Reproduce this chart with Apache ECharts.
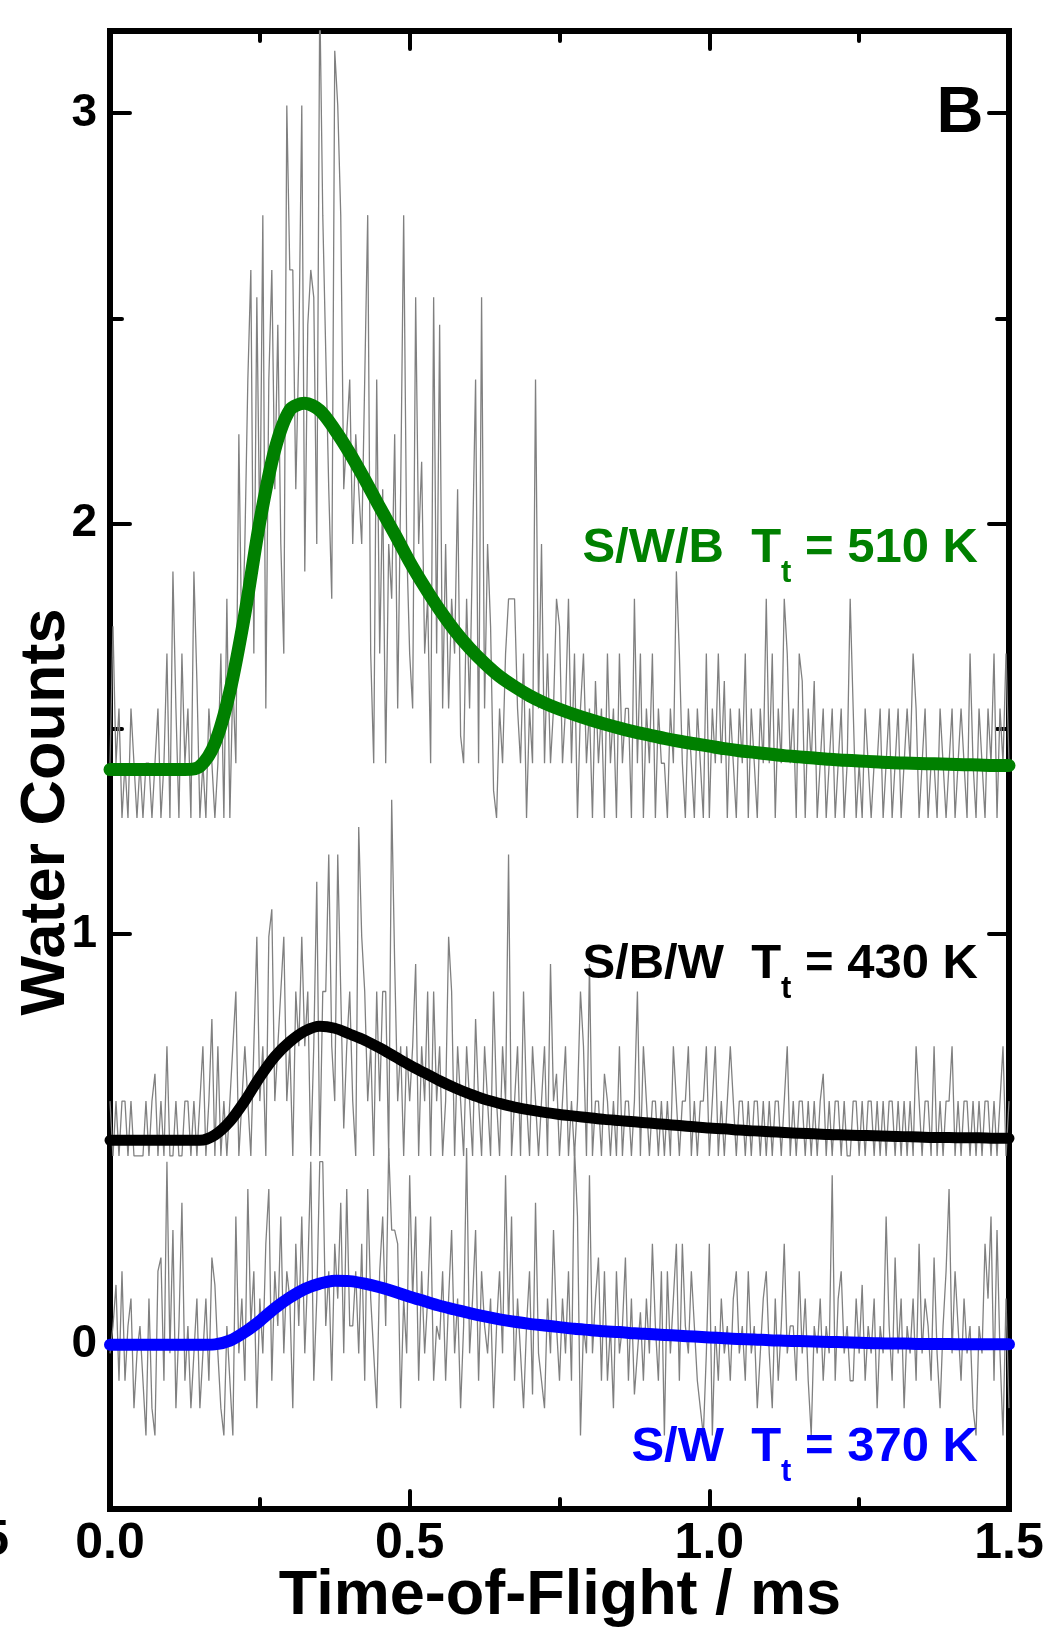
<!DOCTYPE html>
<html>
<head>
<meta charset="utf-8">
<style>
  html, body { margin: 0; padding: 0; background: #fff; }
  #chart { width: 1048px; height: 1632px; }
</style>
<script src="https://cdn.jsdelivr.net/npm/echarts@6/dist/echarts.min.js"></script>
</head>
<body>
<div id="chart"></div>
<script>
// raw TOF traces, sampled every dt ms, stored as detector count levels
var dt = 0.005;
var countStep = 0.1335;    // one count, in plot units
var halfStep = 0.0667;

// S/W/B, 510 K (green), levels above 1.283
var greenBase = 1.283;
var greenCounts = [
  1, 3.5, 1, 2, 0, 1, 0, 2, 1, 0,
  1, 0, 1, 1, 0, 1, 2, 0, 1, 3,
  0, 4.5, 2, 0, 3, 1, 2, 0, 4.5, 2.5,
  0, 1, 0, 2, 1, 0, 1, 3, 0, 4,
  0, 2.5, 1, 7, 3, 5, 8, 10, 3, 9.5,
  5, 11, 2, 8, 10, 6, 9, 5, 3, 13,
  10, 10, 6, 8.5, 13, 4.5, 9, 10, 9.5, 5,
  15, 11, 8.5, 6, 4, 14, 13, 11, 6, 7,
  8, 5, 7, 6, 5, 8, 11, 3, 1, 8,
  3, 6, 1, 5, 4, 7, 2, 6, 11, 5,
  3, 2, 9.5, 5, 6.5, 3, 4, 1, 9.5, 3,
  9, 2, 5, 2, 4, 3, 6, 1.5, 1, 4,
  2, 5, 8, 1, 9.5, 2, 5, 3.5, 0.5, 0,
  2, 1, 3, 4, 4, 4, 2, 1, 3, 0,
  2, 1, 8, 2, 5, 1, 3, 1, 2, 4,
  3.5, 1, 2, 4, 1, 3, 0, 2, 3, 1,
  2, 0, 2.5, 1, 2, 0, 3, 1, 2, 0,
  3, 1, 2, 2, 0, 4, 1, 3, 0, 2,
  1, 3, 0, 2, 1, 1, 0, 2, 1, 4.5,
  3, 1, 0, 2, 1, 0, 2, 1, 0, 3,
  0, 2, 1, 3, 1, 2.5, 0, 2, 1, 0,
  2, 1, 3, 0, 2, 1, 0, 2, 1, 4,
  1, 3, 0, 2, 1, 4, 3, 1, 2, 0,
  3, 2.5, 0, 2, 1, 2.5, 0, 1, 2, 0,
  1, 2, 0, 1, 2, 0, 1, 4, 2, 0,
  1, 0, 2, 1, 0, 1, 1, 2, 0, 1,
  2, 0, 1, 2, 0, 1, 2, 1, 3, 2,
  0, 1, 2, 0, 1, 1, 0, 2, 1, 0,
  1, 2, 0, 1, 2, 1, 0, 3, 1, 0,
  2, 1, 0, 2, 1, 3, 0, 2, 1, 3, 1
];

// S/B/W, 430 K (black), levels above 0.46
var blackBase = 0.46;
var blackCounts = [
  1, 0, 1, 0, 1, 1, 0, 1, 0, 0,
  0, 0, 1, 0, 1, 1.5, 0, 1, 0, 2,
  0, 0, 1, 0, 0, 1, 1, 0, 1, 0,
  1, 2, 0, 1, 2.5, 0, 2, 0, 1, 0,
  1, 2, 3, 0, 1, 2, 1, 0, 2, 4,
  1, 2, 0, 4, 4.5, 1, 2, 3, 4, 1,
  2, 0, 3, 2, 4, 2, 3, 0, 2, 5,
  0, 3, 3, 5.5, 2, 1, 5.5, 3, 0.5, 2,
  3, 1, 0, 6, 4, 3, 1, 2, 0, 3,
  1, 3, 3, 0, 6.5, 3.5, 1, 2, 0, 2,
  1, 2, 3.5, 0, 2, 1, 3, 0, 3, 1,
  2, 0, 1, 4, 3, 0, 2, 1, 0, 2,
  1, 0, 2.5, 1, 0, 2, 1, 0, 3, 1,
  0, 2, 1, 5.5, 0, 1, 2, 0, 3, 1,
  0, 2, 1, 0, 1, 2, 0, 3.5, 1, 1.5,
  0, 1, 2, 0, 1, 0, 1, 3, 2, 0,
  3.5, 0, 1, 1, 0, 1.5, 1, 0, 1, 0,
  2, 0, 1, 1, 0, 1, 3, 0, 2, 1,
  0, 1, 1, 0, 1, 0, 1, 0, 2, 1,
  0, 1, 1, 2, 0, 1, 0, 1, 1, 2,
  0, 1, 2, 0, 1, 0, 1, 2, 1, 0,
  1, 1, 0, 1, 0, 1, 1, 0, 1, 0,
  1, 0, 1, 1, 0, 1, 2, 0, 1, 0,
  1, 1, 0, 1, 0, 1, 0, 1, 1.5, 0,
  1, 0, 1, 1, 0, 1, 0, 0, 1, 1,
  0, 1, 0, 1, 1, 0, 1, 0, 1, 0,
  1, 1, 0, 1, 0, 1, 0, 1, 0, 2,
  1, 0, 1, 1, 0, 2, 0, 1, 0, 1,
  1, 2, 0, 1, 0, 1, 1, 0, 1, 0,
  1, 0, 1, 1, 0, 1, 0, 1, 2, 0, 1
];

// S/W, 370 K (blue), half-count levels above -0.221
var blueBase = -0.221;
var blueCounts = [
  3, 4, 5.5, 2, 6, 2, 4, 5, 1, 3,
  4, 2, 0, 5, 1, 0, 6, 6.5, 2, 10,
  3, 7.5, 1, 4, 8.5, 2, 4, 1, 3, 5,
  1, 3, 5, 2, 6.5, 5.5, 3, 1, 0, 4,
  2, 0, 8, 3, 5, 2, 9, 4, 6, 1,
  5, 3, 7, 9, 2, 6, 4, 8, 3, 6,
  5, 1, 7, 4, 8, 3, 6, 10, 2, 5,
  10, 10, 4, 6, 2, 7, 5, 8.5, 3, 9,
  4, 4, 6, 3, 7, 2, 9, 5, 3, 1,
  6, 8, 4, 10.5, 7.5, 7.5, 7, 1, 5, 3,
  9.5, 5, 8, 2, 6, 3, 5, 8, 2, 4,
  3.5, 6, 2, 5, 7.5, 3, 5, 1, 4, 10.5,
  3, 5, 7.5, 2, 6, 4, 3, 5, 1, 4,
  6, 3, 9.5, 4, 8, 2, 5, 3, 1, 4,
  6, 1.5, 8.5, 3, 2, 1, 5, 3, 7.5, 4,
  2, 5, 3, 6, 2, 10.5, 8, 0, 4, 3,
  9.5, 3, 5, 6.5, 2, 6, 2, 4, 1, 6,
  3, 4, 6.5, 2, 5, 1.5, 3, 4.5, 2, 5,
  3, 7, 4, 2, 6, 0, 6, 3, 5, 7,
  2, 7, 4, 3, 6, 4, 2, 1, 0, 3,
  7, 0, 4, 2, 5, 3, 4, 2, 5, 6,
  3, 4, 2, 6, 3, 4, 1, 3, 5, 6,
  3, 1, 5, 2, 4, 7, 3, 4, 4, 2,
  6, 3, 5, 2, 0, 4, 3, 5, 2, 4,
  3, 9.5, 2, 5, 6, 3, 4, 2, 2, 5,
  3, 5.5, 2, 4, 3, 5, 1, 4, 3, 8,
  4, 2, 6.5, 3, 5, 1, 4, 3, 5, 2,
  7, 3, 5, 4, 2, 6.5, 3, 1, 4, 6,
  9, 3, 6, 4, 2, 5, 3, 4, 1, 0,
  4, 3, 7, 5, 8, 2, 7.5, 3, 0, 5, 1
];

// fitted curves, every fitStep ms
var fitStep = 0.025;
var greenFit = [
  1.401, 1.401, 1.401, 1.401, 1.401, 1.401, 1.409, 1.465, 1.591, 1.78,
  2.005, 2.18, 2.277, 2.293, 2.276, 2.229, 2.172, 2.108, 2.04, 1.975,
  1.907, 1.846, 1.79, 1.74, 1.697, 1.66, 1.628, 1.603, 1.581, 1.563,
  1.548, 1.535, 1.523, 1.512, 1.502, 1.493, 1.485, 1.477, 1.47, 1.464,
  1.458, 1.452, 1.447, 1.443, 1.439, 1.435, 1.432, 1.429, 1.426, 1.424,
  1.422, 1.42, 1.418, 1.417, 1.416, 1.415, 1.414, 1.413, 1.412, 1.411, 1.411
];
var blackFit = [
  0.498, 0.498, 0.498, 0.498, 0.498, 0.498, 0.498, 0.511, 0.544, 0.594,
  0.652, 0.702, 0.738, 0.764, 0.776, 0.771, 0.757, 0.742, 0.723, 0.702,
  0.681, 0.662, 0.643, 0.626, 0.611, 0.598, 0.588, 0.579, 0.572, 0.566,
  0.561, 0.557, 0.553, 0.549, 0.546, 0.543, 0.54, 0.537, 0.534, 0.531,
  0.528, 0.526, 0.523, 0.521, 0.519, 0.517, 0.515, 0.514, 0.512, 0.511,
  0.51, 0.509, 0.508, 0.507, 0.506, 0.505, 0.505, 0.504, 0.504, 0.503, 0.503
];
var blueFit = [
  0, 0, 0, 0, 0, 0, 0, 0.001, 0.01, 0.031,
  0.058, 0.089, 0.115, 0.136, 0.149, 0.156, 0.155, 0.149, 0.14, 0.129,
  0.117, 0.106, 0.095, 0.086, 0.077, 0.069, 0.062, 0.056, 0.051, 0.047,
  0.043, 0.039, 0.036, 0.033, 0.031, 0.028, 0.026, 0.024, 0.022, 0.02,
  0.018, 0.016, 0.014, 0.013, 0.011, 0.01, 0.009, 0.008, 0.007, 0.006,
  0.005, 0.004, 0.003, 0.003, 0.002, 0.002, 0.002, 0.001, 0.001, 0.001, 0.001
];

var yMajor = [0, 1, 2, 3];
var yMinor = [0.5, 1.5, 2.5];

var FONT = '"Liberation Sans", Arial, sans-serif';

function trace(counts, base, step) {
  return counts.map(function (c, i) { return [+(i * dt).toFixed(3), base + c * step]; });
}
function fit(vals) {
  return vals.map(function (v, i) { return [+(i * fitStep).toFixed(3), v]; });
}

var chart = echarts.init(document.getElementById('chart'), null, { renderer: 'canvas' });

var axisLine = { show: true, onZero: false, lineStyle: { color: '#000', width: 6, cap: 'square' } };

function xAxis(pos, labels) {
  return {
    type: 'value', position: pos, min: 0, max: 1.5, interval: 0.5,
    axisLine: axisLine,
    axisTick: { show: true, inside: true, length: 18, lineStyle: { color: '#000', width: 4, cap: 'round' } },
    minorTick: { show: true, splitNumber: 2, length: 10, lineStyle: { color: '#000', width: 4, cap: 'round' } },
    axisLabel: {
      show: labels, margin: 10, color: '#000', fontSize: 50, fontWeight: 'bold', fontFamily: FONT,
      formatter: function (v) { return v.toFixed(1); }
    },
    splitLine: { show: false }, minorSplitLine: { show: false }
  };
}

function yAxis(pos, ticks, len, labels) {
  return {
    type: 'value', position: pos, min: -0.4, max: 3.2,
    axisLine: axisLine,
    axisTick: { show: true, inside: true, length: len, customValues: ticks,
      lineStyle: { color: '#000', width: 4, cap: 'round' } },
    axisLabel: {
      show: labels, customValues: ticks, margin: 13, color: '#000', fontSize: 46, fontWeight: 'bold', fontFamily: FONT
    },
    splitLine: { show: false }
  };
}

function noise(data) {
  return { type: 'line', data: data, showSymbol: false, symbol: 'none', silent: true, z: 2,
    lineStyle: { color: '#808080', width: 1.3 } };
}
function fitLine(data, color, w) {
  return { type: 'line', data: data, showSymbol: false, symbol: 'none', silent: true, z: 4, smooth: 0.3,
    lineStyle: { color: color, width: w, cap: 'round', join: 'round' } };
}

function label(y, color, main1, sub, main2) {
  return {
    type: 'text', x: 978, y: y, z: 10,
    style: {
      text: '{m|' + main1 + '}{s|' + sub + '}{m|' + main2 + '}',
      align: 'right', verticalAlign: 'top',
      rich: {
        m: { fontSize: 49, fontWeight: 'bold', fontFamily: FONT, fill: color, lineHeight: 49, verticalAlign: 'top' },
        s: { fontSize: 31, fontWeight: 'bold', fontFamily: FONT, fill: color, lineHeight: 31, padding: [34, 0, 0, 0], verticalAlign: 'top' }
      }
    }
  };
}

var option = {
  animation: false,
  backgroundColor: '#fff',
  grid: { left: 110, right: 39, top: 31, bottom: 123, containLabel: false },
  xAxis: [xAxis('bottom', true), xAxis('top', false)],
  yAxis: [
    yAxis('left', yMajor, 20, true),
    yAxis('left', yMinor, 12, false),
    yAxis('right', yMajor, 20, false),
    yAxis('right', yMinor, 12, false)
  ],
  series: [
    noise(trace(greenCounts, greenBase, countStep)),
    noise(trace(blackCounts, blackBase, countStep)),
    noise(trace(blueCounts, blueBase, halfStep)),
    fitLine(fit(greenFit), '#008000', 13),
    fitLine(fit(blackFit), '#000000', 11),
    fitLine(fit(blueFit), '#0000ff', 12)
  ],
  graphic: [
    label(524, '#008000', 'S/W/B  T', 't', ' = 510 K'),
    label(940, '#000000', 'S/B/W  T', 't', ' = 430 K'),
    label(1423, '#0000ff', 'S/W  T', 't', ' = 370 K'),
    { type: 'text', x: 960, y: 114, z: 10,
      style: { text: 'B', align: 'center', verticalAlign: 'middle', fontSize: 65, fontWeight: 'bold', fontFamily: FONT, fill: '#000' } },
    { type: 'text', x: 47, y: 812, rotation: Math.PI / 2, z: 10,
      style: { text: 'Water Counts', align: 'center', verticalAlign: 'middle', fontSize: 63, fontWeight: 'bold', fontFamily: FONT, fill: '#000' } },
    { type: 'text', x: 560, y: 1597, z: 10,
      style: { text: 'Time-of-Flight / ms', align: 'center', verticalAlign: 'middle', fontSize: 63, fontWeight: 'bold', fontFamily: FONT, fill: '#000' } },
    // edge of the neighbouring panel's label, cut by the frame
    { type: 'text', x: 9, y: 1541, z: 10,
      style: { text: '5', align: 'right', verticalAlign: 'middle', fontSize: 50, fontWeight: 'bold', fontFamily: FONT, fill: '#000' } }
  ]
};

chart.setOption(option);
</script>
</body>
</html>
